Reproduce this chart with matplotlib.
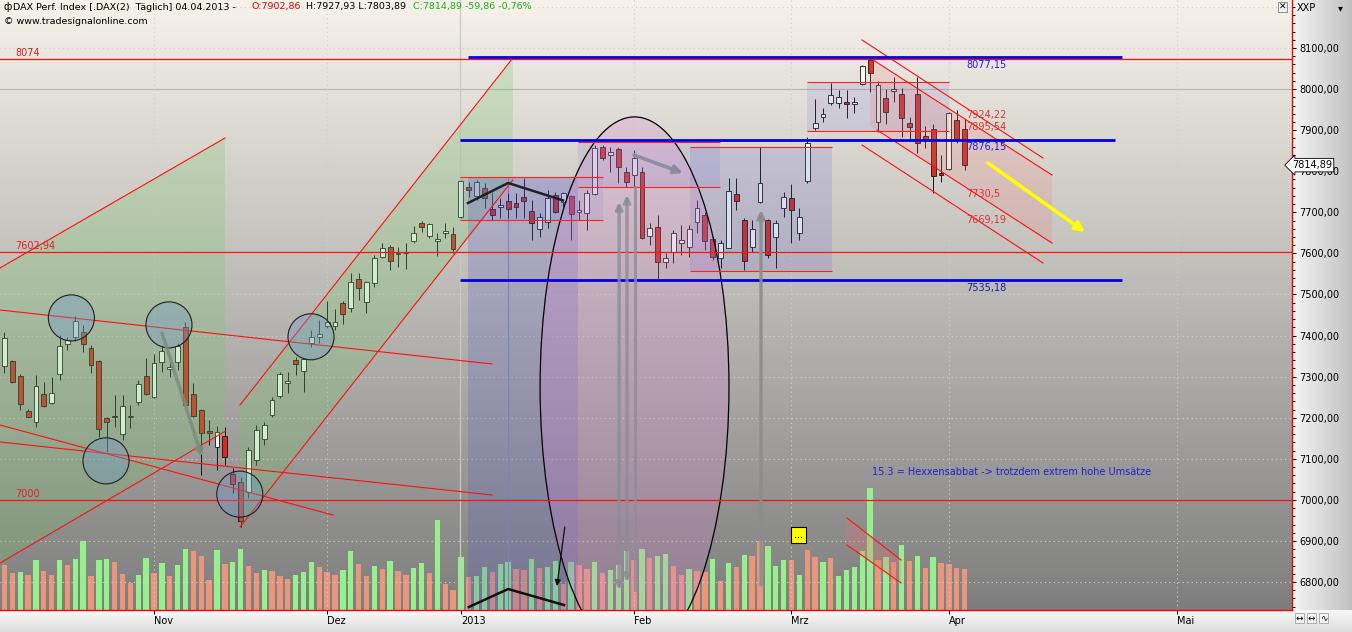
import numpy as np
import matplotlib
matplotlib.use("Agg")
import matplotlib.pyplot as plt
from matplotlib.patches import Rectangle, Ellipse, Polygon
from matplotlib.ticker import MultipleLocator, FixedLocator

plt.rcParams['font.family'] = ['DejaVu Sans']

# ---------------- data ----------------
# bar index 0 = 1 Nov 2012 (trading days); first bar is index -19
first_bar = -19
opens = [7326, 7338, 7302, 7216, 7190, 7258, 7236, 7306, 7379, 7396, 7409, 7370, 7338, 7199, 7203, 7160, 7201, 7238, 7302,
         7250, 7336, 7319, 7336, 7421, 7258, 7219, 7167, 7129, 7156, 7063, 7044, 7019, 7097, 7148, 7207, 7253, 7285, 7340, 7314, 7382, 7396,
         7423, 7423, 7479, 7467, 7538, 7482, 7528, 7591, 7616, 7598, 7600, 7630, 7674, 7642, 7630, 7650, 7647,
         7689, 7762, 7740, 7759, 7708, 7713, 7728, 7723, 7737, 7703, 7659, 7676, 7742, 7725, 7740, 7701, 7698, 7745, 7859, 7840, 7854, 7798,
         7791, 7798, 7642, 7664, 7579, 7603, 7625, 7616, 7676, 7694, 7635, 7589, 7613, 7745, 7681, 7616, 7725, 7681, 7640, 7711,
         7735, 7650, 7776, 7905, 7932, 7966, 7966, 7969, 7964, 8012, 8071, 7920, 7978, 7995, 7988, 7917, 7988, 7886, 7903, 7795,
         7805, 7925, 7902.86]
highs = [7409, 7340, 7306, 7221, 7304, 7287, 7299, 7401, 7396, 7448, 7426, 7377, 7340, 7202, 7255, 7255, 7231, 7292, 7345,
         7355, 7377, 7336, 7382, 7433, 7285, 7221, 7194, 7180, 7177, 7078, 7056, 7129, 7182, 7190, 7250, 7311, 7311, 7348, 7345, 7413, 7438,
         7484, 7465, 7484, 7552, 7552, 7533, 7596, 7625, 7620, 7616, 7625, 7667, 7679, 7674, 7650, 7674, 7664,
         7779, 7774, 7779, 7771, 7749, 7735, 7747, 7747, 7784, 7730, 7698, 7754, 7749, 7749, 7742, 7730, 7754, 7864, 7864, 7859, 7859, 7810,
         7852, 7810, 7674, 7693, 7601, 7657, 7669, 7669, 7730, 7701, 7640, 7633, 7784, 7784, 7686, 7681, 7859, 7684, 7681, 7749,
         7769, 7711, 7883, 7976, 7954, 8015, 7998, 7998, 7981, 8059, 8076, 8020, 8000, 8029, 8003, 7932, 8029, 7910, 7915, 7840,
         7944, 7949, 7927.93]
lows = [7309, 7285, 7219, 7199, 7177, 7226, 7234, 7292, 7365, 7387, 7360, 7309, 7153, 7117, 7177, 7146, 7175, 7231, 7255,
        7248, 7311, 7299, 7316, 7226, 7202, 7061, 7134, 7073, 7085, 7017, 6934, 7005, 7085, 7134, 7202, 7248, 7260, 7304, 7263, 7372, 7382,
        7418, 7413, 7428, 7457, 7487, 7455, 7518, 7589, 7560, 7567, 7562, 7625, 7652, 7637, 7594, 7637, 7601,
        7686, 7737, 7730, 7711, 7681, 7686, 7686, 7686, 7686, 7633, 7640, 7662, 7698, 7713, 7633, 7681, 7657, 7742, 7827, 7798, 7771, 7762,
        7762, 7635, 7620, 7535, 7565, 7577, 7596, 7591, 7650, 7608, 7584, 7565, 7613, 7706, 7560, 7604, 7723, 7589, 7565, 7689,
        7625, 7633, 7771, 7900, 7920, 7961, 7954, 7930, 7942, 8010, 7993, 7896, 7915, 7969, 7883, 7876, 7844, 7857, 7747, 7774,
        7803, 7869, 7803.89]
closes = [7394, 7287, 7233, 7202, 7277, 7229, 7260, 7375, 7389, 7435, 7379, 7328, 7173, 7190, 7201, 7229, 7203, 7282, 7258,
          7333, 7362, 7323, 7375, 7231, 7204, 7163, 7163, 7165, 7104, 7039, 6949, 7121, 7170, 7182, 7243, 7306, 7289, 7331, 7343, 7396, 7404,
          7433, 7433, 7452, 7530, 7516, 7530, 7589, 7613, 7582, 7600, 7602, 7650, 7664, 7671, 7635, 7655, 7611,
          7776, 7754, 7774, 7735, 7694, 7718, 7708, 7713, 7728, 7674, 7689, 7735, 7701, 7747, 7696, 7706, 7747, 7857, 7832, 7847, 7810, 7774,
          7832, 7637, 7662, 7579, 7589, 7650, 7633, 7659, 7711, 7630, 7591, 7625, 7752, 7728, 7581, 7659, 7771, 7596, 7674, 7737,
          7706, 7689, 7869, 7917, 7939, 7986, 7981, 7964, 7969, 8056, 8039, 8010, 7944, 8000, 7930, 7908, 7869, 7878, 7788, 7791,
          7942, 7878, 7814.89]
volumes = [45, 37, 38, 35, 50, 39, 35, 50, 45, 51, 69, 34, 50, 51, 48, 36, 27, 35, 52,
           37, 47, 34, 45, 61, 59, 54, 30, 60, 46, 48, 61, 44, 37, 40, 39, 34, 31, 35, 38, 48, 43,
           38, 35, 40, 59, 46, 34, 44, 41, 49, 39, 35, 42, 47, 37, 90, 26, 20,
           53, 33, 34, 43, 38, 46, 48, 41, 40, 51, 42, 43, 49, 26, 48, 45, 41, 48, 37, 40, 45, 59,
           50, 61, 52, 54, 56, 44, 35, 41, 39, 38, 51, 29, 47, 43, 55, 54, 69, 64, 44, 50,
           50, 35, 60, 53, 48, 52, 34, 40, 43, 59, 122, 50, 53, 48, 65, 49, 54, 42, 53, 47,
           46, 42, 41]
volume_dir = ("rrgrgrrgrggrggrrrgg"
              "rgrggrrrgrggrrgrrrgggr"
              "rrggrrgrgrrggrgrr"
              "grggrggrrgrggrgrrgrggg"
              "rgrggrrgrrgrgrgrrgg"
              "grgrrgrgggggrgrgrgrgr"
              "rrr")

month_ticks = [0, 22, 39, 61, 81, 101, 130]
month_labels = ["Nov", "Dez", "2013", "Feb", "Mrz", "Apr", "Mai"]

red_levels = [8074, 7602.94, 7000]
red_level_labels = ["8074", "7602,94", "7000"]
blue_levels = [8077.15, 7876.15, 7535.18]
blue_level_spans = [(39.9, 123.0), (38.9, 122.1), (38.9, 123.0)]

# trend channels (bar index, price)
green_channels = [
    [(-19.57, 7564.5), (9.02, 7880.9), (9.02, 7166.7), (-19.57, 6846.3)],
    [(10.93, 7230.9), (45.6, 8075.7), (45.6, 7778.7), (10.93, 6933.9)],
]
down_lines = [[(-19.57, 7462.2), (42.95, 7330.8)],
              [(-19.57, 7182.3), (22.74, 6963.2)],
              [(-19.57, 7140.9), (42.95, 7011.9)]]
falling_channel = [[(89.96, 8119.5), (112.96, 7832.2)],
                   [(90.98, 8075.7), (114.1, 7790.8)],
                   [(91.87, 7900.4), (114.1, 7625.3)],
                   [(89.96, 7863.9), (112.96, 7576.6)]]
falling_fill = [(90.98, 8075.7), (114.1, 7790.8), (114.1, 7625.3), (90.98, 7911.3)]
channel_labels = [("8077,15", 8058.6, '#2020d0'), ("7924,22", 7936.9, '#e03030'),
                  ("7895,54", 7907.7, '#e03030'), ("7876,15", 7859.0, '#2020d0'),
                  ("7730,5", 7744.6, '#e03030'), ("7669,19", 7681.0, '#e03030'),
                  ("7535,18", 7515.8, '#1a1aa8')]

# range boxes: (x0, x1, p_low, p_high)
boxes = [(38.9, 57.05, 7681.3, 7785.9), (53.9, 71.9, 7761.6, 7871.9),
         (68.1, 86.15, 7557.9, 7859.0), (83.0, 101.0, 7898.0, 8016.5)]
circles = [(-10.5, 7443), (1.9, 7426), (-6.1, 7095), (10.9, 7014), (19.95, 7397)]

# ---------------- geometry ----------------
W, H = 1352, 632
PX_BAR = 7.87          # px per bar
PX_PT = 0.4108         # px per index point
X0 = -154 / PX_BAR
X1 = (1292 - 154) / PX_BAR
Y1 = 8100 + 48 / PX_PT
Y0 = 8100 - 562 / PX_PT

fig = plt.figure(figsize=(W / 100, H / 100), dpi=100)
fig.patch.set_facecolor('#e8e8e8')
rect = [0, 1 - 610 / H, 1292 / W, 610 / H]

# bottom strip
ax_bs = fig.add_axes([0, 0, 1, 22 / H], zorder=0)
g = np.linspace(0, 1, 50)[:, None]
ax_bs.imshow(np.dstack([0.97 - 0.1 * g] * 3), aspect='auto', extent=(0, 1, 0, 1))
ax_bs.axis('off')
# right strip
ax_rs = fig.add_axes([1292 / W, 1 - 610 / H, 60 / W, 610 / H], zorder=0)
gh = np.linspace(0, 1, 60)[None, :]
ax_rs.imshow(np.dstack([0.96 - 0.2 * gh] * 3), aspect='auto', extent=(0, 1, 0, 1))
ax_rs.axis('off')

ax_bg = fig.add_axes(rect, zorder=1)
ax_bg.set_xlim(X0, X1)
ax_bg.set_ylim(0, 610)
gv = np.linspace(0, 1, 256)[:, None]
top = np.array([246, 242, 234]) / 255
bot = np.array([126, 126, 126]) / 255
grad = top[None, None, :] * (1 - gv[:, :, None]) + bot[None, None, :] * gv[:, :, None]
ax_bg.imshow(grad, aspect='auto', extent=(X0, X1, 0, 610), zorder=0, origin='upper')
ax_bg.axis('off')
idx = np.arange(first_bar, first_bar + len(closes))
vcol = ['#96f08c' if c == 'g' else '#e9967d' for c in volume_dir]
ax_bg.bar(idx, volumes, width=0.68, color=vcol, zorder=2, linewidth=0)
ax_bg.set_xlim(X0, X1)
ax_bg.set_ylim(0, 610)

ax = fig.add_axes(rect, zorder=2)
ax.patch.set_alpha(0)
ax.set_xlim(X0, X1)
ax.set_ylim(Y0, Y1)

# grid
for p in range(6800, 8201, 100):
    if p == 8000:
        ax.axhline(p, color='#b4b4b4', lw=0.8, zorder=1)
    else:
        ax.axhline(p, color='#d2d2d2', lw=0.8, ls=(0, (1, 3)), zorder=1)
for t in month_ticks:
    if t == 39:
        ax.axvline(t - 0.1, color='#c8c8c8', lw=0.9, zorder=1)
    else:
        ax.axvline(t, color='#cfcfcf', lw=0.8, ls=(0, (1, 3)), zorder=1)
ax.vlines(45.0, Y0, 7786, color='#8890b0', lw=0.8, zorder=1)

# candles
o = np.array(opens); c = np.array(closes); hi = np.array(highs); lo = np.array(lows)
ax.vlines(idx, lo, hi, color='#151515', lw=0.7, zorder=3)
up = c >= o
body_lo = np.minimum(o, c)
body_h = np.maximum(np.abs(c - o), 2.0)
ax.bar(idx, body_h, bottom=body_lo, width=0.62,
       color=np.where(up, '#f2fbf2', '#d42e22'), edgecolor='#151515', linewidth=0.6, zorder=3)

# shaded areas
for ch in green_channels:
    ax.add_patch(Polygon(ch, closed=True, fc=(0.45, 0.78, 0.4, 0.25), ec='none', zorder=4))
ax.add_patch(Rectangle((39.9, Y0), 53.9 - 39.9, 7785.9 - Y0, fc=(0.35, 0.35, 0.78, 0.24), ec='none', zorder=4))
box_alpha = [0.1, 0.12, 0.16, 0.13]
for (x0, x1, pl, ph), a in zip(boxes, box_alpha):
    ax.add_patch(Rectangle((x0, pl), x1 - x0, ph - pl, fc=(0.35, 0.35, 0.85, a), ec='none', zorder=4))
    ax.hlines([pl, ph], x0, x1, color='#ff2020', lw=0.8, zorder=5)
ax.add_patch(Polygon(falling_fill, closed=True, fc=(0.95, 0.45, 0.45, 0.18), ec='none', zorder=4))
ax.add_patch(Ellipse((61.06, 7275), 24.0, 1314.5, fc=(0.85, 0.5, 0.82, 0.24), ec='black', lw=0.9, zorder=4))

# lines
for p, lab in zip(red_levels, red_level_labels):
    ax.axhline(p, color='#ff1010', lw=0.9, zorder=5)
    ax.text(-17.66, p + 14, lab, color='#e02020', fontsize=7, va='center', ha='left', zorder=7)
for ch in green_channels:
    for a_, b_ in [(0, 1), (3, 2)]:
        ax.plot([ch[a_][0], ch[b_][0]], [ch[a_][1], ch[b_][1]], color='#ff1010', lw=0.8, zorder=5)
for ln in down_lines + falling_channel:
    ax.plot([ln[0][0], ln[1][0]], [ln[0][1], ln[1][1]], color='#ff1010', lw=0.8, zorder=5)
for p, (x0, x1) in zip(blue_levels, blue_level_spans):
    ax.hlines(p, x0, x1, color='#0000e0', lw=2.0, zorder=5)
for lab, p, col in channel_labels:
    ax.text(103.2, p, lab, color=col, fontsize=7, va='center', ha='left', zorder=7)

for cx, cy in circles:
    ax.add_patch(Ellipse((cx, cy), 5.85, 112, fc=(0.45, 0.6, 0.8, 0.35), ec='#202020', lw=0.8, zorder=5))

# arrows
def arrow(p0, p1, color, lw, style='-|>', ms=12, alpha=1.0):
    ax.annotate('', xy=p1, xytext=p0, zorder=6,
                arrowprops=dict(arrowstyle=style, color=color, lw=lw, mutation_scale=ms,
                                alpha=alpha, shrinkA=0, shrinkB=0))

arrow((1.02, 7406.2), (6.1, 7104.4), '#7d8d7d', 2.6, ms=10, alpha=0.85)
arrow((61.0, 7839.5), (67.2, 7795.7), '#8a8a9c', 2.6, ms=12, alpha=0.9)
arrow((59.1, 6780.6), (59.1, 7725.1), '#8c8c98', 2.4, style='<|-|>', ms=10, alpha=0.8)
arrow((60.1, 6800.0), (60.1, 7742.2), '#8c8c98', 2.4, style='<|-|>', ms=10, alpha=0.8)
ax.plot([61.1, 61.1], [6780, 7761.6], color='#8c8c98', lw=2.2, alpha=0.8, zorder=6)
arrow((77.13, 6792.8), (77.13, 7705.6), '#8c8c8c', 2.4, ms=11, alpha=0.9)
arrow((105.97, 7820.1), (118.3, 7652.1), '#ffff00', 2.6, ms=14)
ax.plot([39.9, 45.0, 51.97], [7722.7, 7771.4, 7729.0], color='#202028', lw=1.8, zorder=6)
ax.plot([40.0, 45.0, 52.1], [6739.2, 6783.0, 6744.1], color='#101010', lw=1.8, zorder=6)
arrow((52.2, 6933.9), (51.2, 6790.3), '#101010', 0.9, ms=9)

# small volume channel
vch = [(88.06, 6955.9), (94.92, 6853.6), (94.92, 6797.7), (88.06, 6890.2)]
ax.add_patch(Polygon(vch, closed=True, fc=(0.9, 0.45, 0.45, 0.3), ec='none', zorder=4))
ax.plot([88.06, 94.92], [6955.9, 6853.6], color='#ff1010', lw=0.8, zorder=5)
ax.plot([88.06, 94.92], [6890.2, 6797.7], color='#ff1010', lw=0.8, zorder=5)

ax.text(81.9, 6914.5, '...', fontsize=7, ha='center', va='center', zorder=7,
        bbox=dict(boxstyle='square,pad=0.35', fc='#ffff00', ec='black', lw=0.8))
ax.text(91.2, 7067.9, '15.3 = Hexxensabbat -> trotzdem extrem hohe Umsätze', color='#2020d8',
        fontsize=7, ha='left', va='center', zorder=7)

# axes styling
for s in ['left', 'top']:
    ax.spines[s].set_visible(False)
ax.spines['right'].set_color('#ff0000')
ax.spines['bottom'].set_color('#ff0000')
ax.spines['right'].set_linewidth(1.0)
ax.spines['bottom'].set_linewidth(1.0)
ax.yaxis.tick_right()
ax.yaxis.set_major_locator(FixedLocator(list(range(6800, 8101, 100))))
ax.yaxis.set_minor_locator(MultipleLocator(20))
ax.set_yticklabels([f"{v},00" for v in range(6800, 8101, 100)])
ax.tick_params(axis='y', which='major', length=3, width=0.7, labelsize=7, pad=2, color='black')
ax.tick_params(axis='y', which='minor', length=2.2, width=0.7, color='black')
ax.set_xticks(month_ticks)
ax.set_xticklabels(month_labels)
for lbl in ax.get_xticklabels():
    lbl.set_ha('left')
ax.tick_params(axis='x', length=3, width=0.7, labelsize=7, pad=1.5, color='black')

# price marker
tr = ax.get_yaxis_transform()
ax.text(1.0, closes[-1], '7814,89', transform=tr, fontsize=7, ha='left', va='center', zorder=8,
        clip_on=False, bbox=dict(boxstyle='larrow,pad=0.18', fc='white', ec='black', lw=0.6))

# header texts
def fxp(px):
    return px / W

def fyp(py):
    return 1 - py / H

yh = fyp(7)
fig.text(fxp(4), yh, 'ф', fontsize=7, va='center', color='black')
fig.text(fxp(12.6), yh, 'DAX Perf. Index [.DAX(2)  Täglich] 04.04.2013 -', fontsize=6.8, va='center')
fig.text(fxp(251), yh, 'O:7902,86', fontsize=6.8, va='center', color='#e00000')
fig.text(fxp(306), yh, 'H:7927,93 L:7803,89', fontsize=6.8, va='center', color='black')
fig.text(fxp(413), yh, 'C:7814,89 -59,86 -0,76%', fontsize=6.8, va='center', color='#18b018')
fig.text(fxp(4), fyp(22), '© www.tradesignalonline.com', fontsize=6.8, va='center')
fig.text(fxp(1297), fyp(8), 'XXP', fontsize=7, va='center', zorder=5)
fig.text(fxp(1338), fyp(8), '▾', fontsize=7, va='center', zorder=5)
fig.text(fxp(1279), fyp(7), '✕', fontsize=6.5, va='center', zorder=5,
         bbox=dict(boxstyle='square,pad=0.1', fc='#f0f0f0', ec='#808080', lw=0.6))
for k, glyph in enumerate(['↔', '↔', '∿']):
    fig.text(fxp(1296 + 12 * k), fyp(618), glyph, fontsize=6.5, va='center', zorder=5,
             bbox=dict(boxstyle='square,pad=0.1', fc='#f4f4f4', ec='#909090', lw=0.5))

fig.savefig('out.png', dpi=100)
